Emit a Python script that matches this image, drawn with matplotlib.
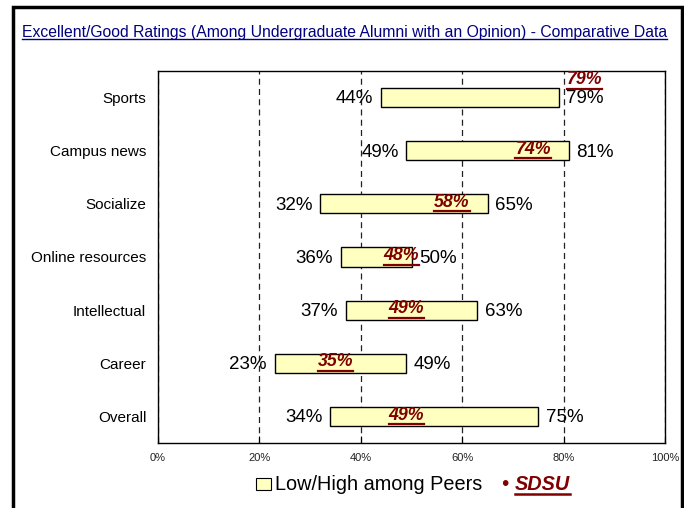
"""Peer comparison chart: excellent/good ratings, low/high range vs SDSU."""
import matplotlib
matplotlib.use("Agg")
import matplotlib.pyplot as plt
import numpy as np
from matplotlib.lines import Line2D
from matplotlib.patches import Rectangle

categories = ["Sports", "Campus news", "Socialize", "Online resources",
              "Intellectual", "Career", "Overall"]
peer_low = [44, 49, 32, 36, 37, 23, 34]
peer_high = [79, 81, 65, 50, 63, 49, 75]
sdsu = [79, 74, 58, 48, 49, 35, 49]
x_ticks = [0, 20, 40, 60, 80, 100]

TITLE = "Excellent/Good Ratings (Among Undergraduate Alumni with an Opinion) - Comparative Data"
BAR_FILL = "#FFFFC0"
DARK_RED = "#800000"
NAVY = "#000080"
W, H = 684, 508

plt.rcParams["font.family"] = ["Liberation Sans", "DejaVu Sans"]


def fx(x):
    return x / W


def fy(y):
    # y measured from the top of the image, in pixels
    return 1 - y / H


fig = plt.figure(figsize=(W / 100, H / 100), dpi=100)
ax = fig.add_axes([fx(158), fy(443), fx(507), 372 / H])

y = np.arange(len(categories))
ax.barh(y, np.subtract(peer_high, peer_low), left=peer_low, height=0.36,
        color=BAR_FILL, edgecolor="black", linewidth=1, zorder=3)

ax.set_xlim(0, 100)
ax.set_ylim(len(categories) - 0.5, -0.5)
ax.set_xticks(x_ticks)
ax.set_xticklabels([f"{t}%" for t in x_ticks], fontsize=8, color="#222222")
ax.set_yticks(y)
ax.set_yticklabels(categories, fontsize=11)
ax.tick_params(axis="y", length=0, pad=8.5)
ax.tick_params(axis="x", direction="in", length=5, pad=7)
ax.xaxis.grid(True, linestyle=(0, (4.8, 3.4)), color="#222222", linewidth=0.9)
ax.set_axisbelow(True)
for s in ax.spines.values():
    s.set_linewidth(1)

underline = []
for i in range(len(categories)):
    ax.annotate(f"{peer_low[i]}%", (peer_low[i], i), xytext=(-5.5, -1),
                textcoords="offset points", ha="right", va="center", fontsize=13.5, zorder=5)
    ax.annotate(f"{peer_high[i]}%", (peer_high[i], i), xytext=(5.5, -1),
                textcoords="offset points", ha="left", va="center", fontsize=13.5, zorder=5)
    if sdsu[i] == peer_high[i]:
        off, ha = (6, 13), "left"
    else:
        off, ha = (0, 1), "center"
    t = ax.annotate(f"{sdsu[i]}%", (sdsu[i], i), xytext=off, textcoords="offset points",
                    ha=ha, va="center", fontsize=12.8, fontweight="bold",
                    fontstyle="italic", color=DARK_RED, zorder=6)
    underline.append((t, DARK_RED, 1.6, -0.5))

# title and frame
title = fig.text(fx(22), fy(32), TITLE, ha="left", va="center", fontsize=11.3, color=NAVY)
underline.append((title, NAVY, 1.0, 1))
fig.patches.append(Rectangle((fx(13), fy(520)), fx(669), 513 / H, transform=fig.transFigure,
                             fill=False, edgecolor="black", linewidth=2.5))

# legend
fig.patches.append(Rectangle((fx(256), fy(490)), fx(15), 12 / H, transform=fig.transFigure,
                             facecolor=BAR_FILL, edgecolor="black", linewidth=0.8))
fig.text(fx(275), fy(484), "Low/High among Peers", ha="left", va="center", fontsize=14.3)
fig.text(fx(501), fy(484), "\u2022", ha="left", va="center", fontsize=15, color=DARK_RED)
leg = fig.text(fx(515), fy(484), "SDSU", ha="left", va="center", fontsize=14.3,
               fontweight="bold", fontstyle="italic", color=DARK_RED)
underline.append((leg, DARK_RED, 1.8, 0))

fig.canvas.draw()
renderer = fig.canvas.get_renderer()
for t, col, lw, dy in underline:
    bb = t.get_window_extent(renderer)
    yy = (bb.y0 + dy) / H
    fig.lines.append(Line2D([bb.x0 / W, bb.x1 / W], [yy, yy], transform=fig.transFigure,
                            color=col, linewidth=lw))

fig.savefig("out.png", dpi=100)
